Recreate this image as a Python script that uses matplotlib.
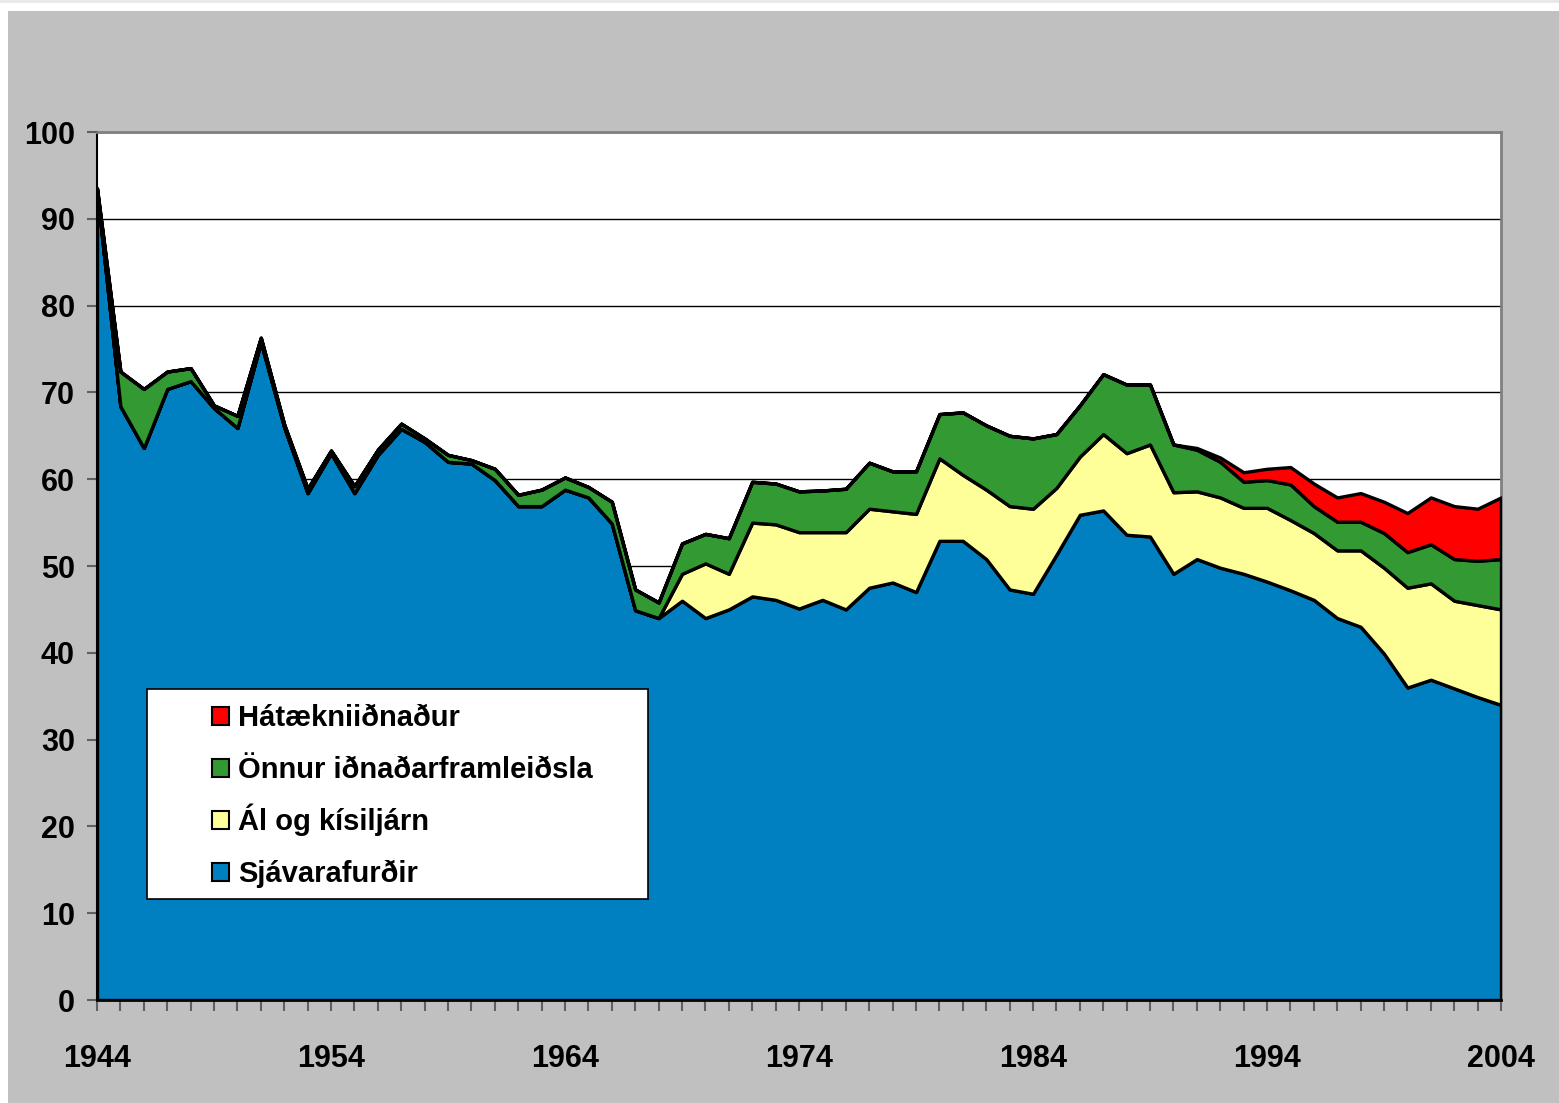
import matplotlib
matplotlib.use("Agg")
import matplotlib.pyplot as plt
from matplotlib.patches import Rectangle

plt.rcParams['font.family'] = ['Liberation Sans', 'DejaVu Sans']
plt.rcParams['font.weight'] = 'bold'

years = list(range(1944, 2005))

# Sjávarafurðir
fish = [93.3, 68.4, 63.6, 70.4, 71.3, 68.2, 65.9, 75.8, 66.0, 58.4,
        63.0, 58.4, 62.8, 65.8, 64.3, 62.0, 61.8, 59.9, 56.9, 56.9,
        58.8, 57.9, 54.9, 44.9, 44.0, 46.0, 44.0, 45.0, 46.5, 46.1,
        45.1, 46.1, 45.0, 47.5, 48.1, 47.0, 52.9, 52.9, 50.8, 47.3,
        46.8, 51.3, 55.9, 56.4, 53.6, 53.4, 49.1, 50.8, 49.8, 49.1,
        48.2, 47.2, 46.1, 44.0, 43.0, 39.9, 36.0, 36.9, 35.9, 34.9,
        34.0]

# Ál og kísiljárn
alu = [0.0] * 24 + [0.0, 3.1, 6.3, 4.1, 8.5, 8.7, 8.8, 7.8, 8.9, 9.1,
                    8.2, 9.0, 9.5, 7.6, 8.0, 9.6, 9.8, 7.7, 6.7, 8.8,
                    9.4, 10.6, 9.4, 7.8, 8.1, 7.6, 8.5, 8.1, 7.7, 7.8,
                    8.8, 9.9, 11.5, 11.1, 10.1, 10.6, 11.0]

# Önnur iðnaðarframleiðsla
other = [0.2, 4.0, 6.8, 2.0, 1.5, 0.3, 1.4, 0.5, 0.3, 0.5,
         0.3, 0.8, 0.6, 0.6, 0.4, 0.8, 0.4, 1.3, 1.3, 1.9,
         1.4, 1.2, 2.5, 2.4, 1.8, 3.5, 3.4, 4.1, 4.7, 4.7,
         4.7, 4.8, 5.0, 5.3, 4.6, 4.9, 5.1, 7.2, 7.4, 8.1,
         8.1, 6.2, 5.9, 6.9, 7.9, 6.9, 5.5, 4.8, 4.1, 3.0,
         3.2, 4.1, 3.1, 3.3, 3.3, 4.0, 4.1, 4.5, 4.8, 5.1,
         5.8]

# Hátækniiðnaður
hitech = [0.0] * 46 + [0.0, 0.2, 0.5, 1.1, 1.3, 2.0, 2.6, 2.8, 3.3, 3.6,
                       4.5, 5.4, 6.1, 6.0, 7.1]

labels = ['Sjávarafurðir', 'Ál og kísiljárn', 'Önnur iðnaðarframleiðsla', 'Hátækniiðnaður']
colors = ['#0080C0', '#FFFF99', '#339933', '#FF0000']

W, H = 1559, 1103
fig = plt.figure(figsize=(W / 100, H / 100), dpi=100)
fig.patch.set_facecolor('white')
# outer grey panel
fig.add_artist(Rectangle((8 / W, 0), 1, (H - 11) / H, transform=fig.transFigure,
                         facecolor='#C0C0C0', edgecolor='none', zorder=0))
fig.add_artist(Rectangle((0, (H - 3) / H), 1, 3 / H, transform=fig.transFigure,
                         facecolor='#E9E9E9', edgecolor='none', zorder=0))

AX_L, AX_T, AX_W, AX_H = 97, 132, 1404, 868
ax = fig.add_axes([AX_L / W, (H - AX_T - AX_H) / H, AX_W / W, AX_H / H])
ax.set_facecolor('white')

ax.stackplot(years, fish, alu, other, hitech, colors=colors,
             edgecolor='black', linewidth=2.4, zorder=3)

ax.set_xlim(1944, 2004)
ax.set_ylim(0, 100)

ax.set_yticks(range(0, 101, 10))
ax.yaxis.grid(True, color='black', linewidth=1.0, zorder=1)
ax.set_axisbelow(True)

ax.set_xticks(years)
ax.set_xticklabels([str(y) if (y - 1944) % 10 == 0 else '' for y in years])

ax.tick_params(axis='y', length=7, width=1.5, color='#606060', pad=9, labelsize=22)
ax.tick_params(axis='x', length=8, width=1.5, color='#606060', pad=24, labelsize=22)

for s in ['top', 'right']:
    ax.spines[s].set_color('#808080')
    ax.spines[s].set_linewidth(2)
ax.spines['left'].set_color('black')
ax.spines['left'].set_linewidth(1.5)
ax.spines['bottom'].set_color('black')
ax.spines['bottom'].set_linewidth(2)


def px(x, y):
    # reference pixel position -> axes fraction
    return (x - AX_L) / AX_W, (AX_T + AX_H - y) / AX_H


# legend box, drawn by hand so rows are evenly spaced
x0, y0 = px(147, 899)
x1, y1 = px(648, 689)
ax.add_patch(Rectangle((x0, y0), x1 - x0, y1 - y0, transform=ax.transAxes,
                       facecolor='white', edgecolor='black', linewidth=1.2, zorder=5))
for i, (lab, col) in enumerate(zip(labels[::-1], colors[::-1])):
    cy = 716 + 52 * i
    bx, by = px(212, cy + 9)
    bx2, by2 = px(229, cy - 9)
    ax.add_patch(Rectangle((bx, by), bx2 - bx, by2 - by, transform=ax.transAxes,
                           facecolor=col, edgecolor='black', linewidth=1.5, zorder=6))
    tx, ty = px(238, cy + 10)
    ax.text(tx, ty, lab, transform=ax.transAxes, fontsize=21, fontweight='bold',
            ha='left', va='baseline', zorder=6)

fig.savefig('out.png', dpi=100)
